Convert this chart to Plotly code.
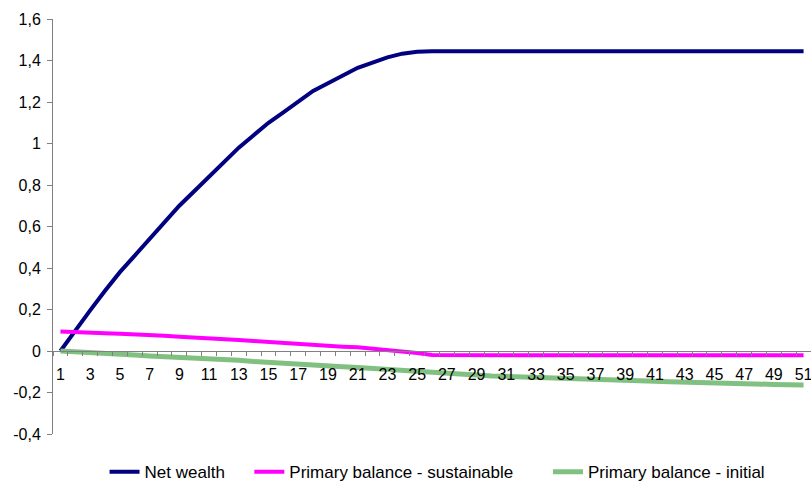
import plotly.graph_objects as go

# Periods 1..51
periods = list(range(1, 52))

net_wealth = [
    0.000, 0.100, 0.196, 0.290, 0.380, 0.460, 0.540, 0.620, 0.700, 0.770,
    0.840, 0.910, 0.980, 1.040, 1.100, 1.150, 1.200, 1.253, 1.290, 1.330,
    1.365, 1.390, 1.415, 1.433, 1.442, 1.445, 1.445, 1.445, 1.445, 1.445,
    1.445, 1.445, 1.445, 1.445, 1.445, 1.445, 1.445, 1.445, 1.445, 1.445,
    1.445, 1.445, 1.445, 1.445, 1.445, 1.445, 1.445, 1.445, 1.445, 1.445,
    1.445,
]

pb_sustainable = [
    0.094, 0.090, 0.088, 0.086, 0.083, 0.081, 0.077, 0.074, 0.069, 0.066,
    0.062, 0.058, 0.053, 0.048, 0.043, 0.040, 0.036, 0.031, 0.025, 0.021,
    0.018, 0.012, 0.006, 0.000, -0.010, -0.019, -0.020, -0.020, -0.020, -0.020,
    -0.020, -0.020, -0.020, -0.020, -0.020, -0.020, -0.020, -0.020, -0.020, -0.020,
    -0.020, -0.020, -0.020, -0.020, -0.020, -0.020, -0.020, -0.020, -0.020, -0.020,
    -0.020,
]

pb_initial = [
    0.000, -0.003, -0.005, -0.010, -0.014, -0.019, -0.024, -0.027, -0.031, -0.035,
    -0.038, -0.042, -0.045, -0.051, -0.056, -0.059, -0.063, -0.068, -0.072, -0.076,
    -0.080, -0.085, -0.090, -0.095, -0.100, -0.105, -0.110, -0.114, -0.117, -0.120,
    -0.122, -0.125, -0.128, -0.131, -0.134, -0.136, -0.138, -0.140, -0.142, -0.144,
    -0.146, -0.148, -0.149, -0.151, -0.152, -0.155, -0.157, -0.159, -0.161, -0.163,
    -0.164,
]

x_labels = [str(p) for p in periods[::2]]
y_ticks = [-0.4, -0.2, 0, 0.2, 0.4, 0.6, 0.8, 1.0, 1.2, 1.4, 1.6]
y_tick_text = ["-0,4", "-0,2", "0", "0,2", "0,4", "0,6", "0,8", "1", "1,2", "1,4", "1,6"]

FONT = "Liberation Sans, Arial, sans-serif"

fig = go.Figure()
fig.add_trace(go.Scatter(x=periods, y=net_wealth, mode="lines", name="Net wealth",
                         line=dict(color="#000080", width=4), legend="legend"))
fig.add_trace(go.Scatter(x=periods, y=pb_sustainable, mode="lines",
                         name="Primary balance - sustainable",
                         line=dict(color="#FF00FF", width=4), legend="legend2"))
fig.add_trace(go.Scatter(x=periods, y=pb_initial, mode="lines",
                         name="Primary balance - initial",
                         line=dict(color="#80C080", width=5), legend="legend3"))

# category boundaries for the tick marks
boundaries = [p - 0.5 for p in periods] + [periods[-1] + 0.5]

legend_style = dict(orientation="h", xanchor="left", y=-0.092, yanchor="middle",
                    font=dict(size=17), bgcolor="rgba(0,0,0,0)")

fig.update_layout(
    width=811, height=484,
    margin=dict(l=53, r=0, t=19, b=50, autoexpand=False),
    paper_bgcolor="white", plot_bgcolor="white",
    font=dict(family=FONT, size=16, color="black"),
    showlegend=True,
    legend=dict(x=0.068, **legend_style),
    legend2=dict(x=0.259, **legend_style),
    legend3=dict(x=0.653, **legend_style),
    xaxis=dict(
        range=[0.5, 51.5], showgrid=False, zeroline=False,
        showline=True, linecolor="#808080", linewidth=1,
        anchor="free", position=0.2,
        tickmode="array", tickvals=periods[::2], ticktext=x_labels,
        ticks="outside", ticklen=9, tickcolor="rgba(0,0,0,0)",
        tickfont=dict(size=16), ticklabeloverflow="allow",
        minor=dict(tickmode="array", tickvals=boundaries, ticks="outside",
                   ticklen=4, tickcolor="#808080", tickwidth=1),
    ),
    yaxis=dict(
        range=[-0.4, 1.6], showgrid=False, zeroline=False,
        showline=True, linecolor="#808080", linewidth=1,
        tickmode="array", tickvals=y_ticks, ticktext=y_tick_text,
        ticks="outside", ticklen=5, tickcolor="#808080",
        ticklabelstandoff=3,
        tickfont=dict(size=16),
    ),
)

fig.write_html("out.html")
